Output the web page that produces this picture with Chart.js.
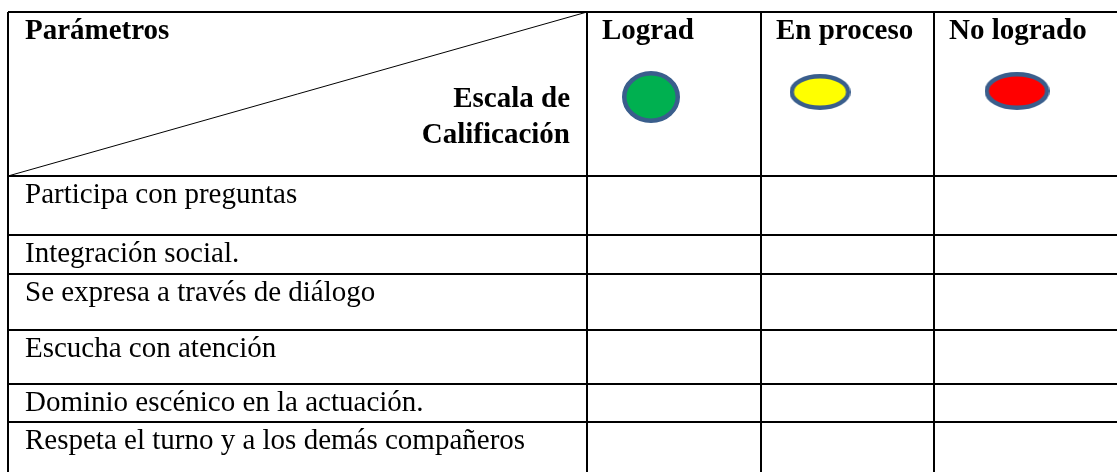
<!DOCTYPE html>
<html lang="es">
<head>
<meta charset="utf-8">
<title>Escala de calificación</title>
<script src="https://cdn.jsdelivr.net/npm/chart.js@4/dist/chart.umd.min.js"></script>
<style>
  html, body { margin: 0; padding: 0; background: #fff; }
  canvas { display: block; }
</style>
</head>
<body>
<canvas id="tabla" width="1117" height="472"></canvas>
<script>
// ── Datos ────────────────────────────────────────────────────
const tituloFilas    = 'Parámetros';
const tituloColumnas = ['Escala de', 'Calificación'];
const escala         = ['Lograd', 'En proceso', 'No logrado'];
const escalaColores  = ['#00B050', '#FFFF00', '#FF0000'];
const parametros     = [
  'Participa con preguntas',
  'Integración social.',
  'Se expresa a través de diálogo',
  'Escucha con atención',
  'Dominio escénico en la actuación.',
  'Respeta el turno y a los demás compañeros',
];

// ── Maquetación (unidades de escala ≈ px) ────────────────────
const anchoCols  = [579, 174, 173, 200];            // la última se sale del lienzo
const altoFilas  = [164, 59, 39, 56, 54, 38, 60];   // cabecera + filas
const iconos     = [                                 // centro relativo a la celda, tamaño
  { dx: 64, dy: 85, w: 58, h: 52 },
  { dx: 59, dy: 80, w: 61, h: 36 },
  { dx: 83, dy: 79, w: 65, h: 38 },
];
const bordeIcono = '#3A5E8C';
const fuente     = '"Liberation Serif", "Times New Roman", serif';
const estiloCab  = { size: 29, bold: true };
const estiloCpo  = { size: 29, bold: false };

const acumular = arr => arr.reduce((o, v) => (o.push(o[o.length - 1] + v), o), [0]);
const bordesX  = acumular(anchoCols);
const bordesY  = acumular(altoFilas);
const X_MAX = 1109, Y_MAX = 460;

function lienzoIcono(color, ic) {
  const c  = document.createElement('canvas');
  c.width  = ic.w;
  c.height = ic.h;
  const g  = c.getContext('2d');
  const lw = 4.5;
  g.beginPath();
  g.ellipse(ic.w / 2, ic.h / 2, ic.w / 2 - lw / 2, ic.h / 2 - lw / 2, 0, 0, Math.PI * 2);
  g.fillStyle = color;
  g.fill();
  g.lineWidth = lw;
  g.strokeStyle = bordeIcono;
  g.stroke();
  return c;
}
const estilosIcono = escala.map((_, i) => lienzoIcono(escalaColores[i], iconos[i]));

function texto(ctx, t, x, y, est, align) {
  ctx.save();
  ctx.font = `${est.bold ? 'bold ' : ''}${est.size}px ${fuente}`;
  ctx.fillStyle = '#000';
  ctx.textAlign = align || 'left';
  ctx.textBaseline = 'alphabetic';
  ctx.fillText(t, x, y);
  ctx.restore();
}

const textosTabla = {
  id: 'textosTabla',
  afterDraw(chart) {
    const { ctx, scales: { x, y } } = chart;
    const px = v => x.getPixelForValue(v);
    const py = v => y.getPixelForValue(v);

    texto(ctx, tituloFilas, px(bordesX[0]) + 17, py(bordesY[0]) + 27, estiloCab);
    texto(ctx, tituloColumnas[0], px(bordesX[1]) - 17, py(bordesY[0]) + 95, estiloCab, 'right');
    texto(ctx, tituloColumnas[1], px(bordesX[1]) - 17, py(bordesY[0]) + 131, estiloCab, 'right');

    escala.forEach((e, i) => {
      texto(ctx, e, px(bordesX[i + 1]) + 15, py(bordesY[0]) + 27, estiloCab);
    });
    parametros.forEach((p, i) => {
      texto(ctx, p, px(bordesX[0]) + 17, py(bordesY[i + 1]) + 27, estiloCpo);
    });
  },
};

new Chart(document.getElementById('tabla'), {
  type: 'scatter',
  data: {
    datasets: [
      {
        // diagonal de la celda de cabecera
        type: 'line',
        data: [
          { x: bordesX[0], y: bordesY[1] },
          { x: bordesX[1], y: bordesY[0] },
        ],
        borderColor: '#000',
        borderWidth: 1,
        pointRadius: 0,
        showLine: true,
      },
      {
        data: escala.map((_, i) => ({
          x: bordesX[i + 1] + iconos[i].dx,
          y: bordesY[0] + iconos[i].dy,
        })),
        pointStyle: estilosIcono,
        pointRadius: 10,
        pointHoverRadius: 10,
      },
    ],
  },
  options: {
    responsive: false,
    animation: false,
    events: [],
    layout: { padding: { left: 8, top: 12, right: 0, bottom: 0 }, autoPadding: false },
    plugins: { legend: { display: false }, tooltip: { enabled: false } },
    scales: {
      x: {
        type: 'linear',
        min: 0,
        max: X_MAX,
        afterBuildTicks: ax => { ax.ticks = bordesX.filter(v => v <= X_MAX).map(value => ({ value })); },
        ticks: { display: false },
        grid: { color: '#000', lineWidth: 2, drawTicks: false },
        border: { display: false },
      },
      y: {
        type: 'linear',
        reverse: true,
        min: 0,
        max: Y_MAX,
        afterBuildTicks: ax => { ax.ticks = bordesY.filter(v => v <= Y_MAX).map(value => ({ value })); },
        ticks: { display: false },
        grid: { color: '#000', lineWidth: 2, drawTicks: false },
        border: { display: false },
      },
    },
  },
  plugins: [textosTabla],
});
</script>
</body>
</html>
